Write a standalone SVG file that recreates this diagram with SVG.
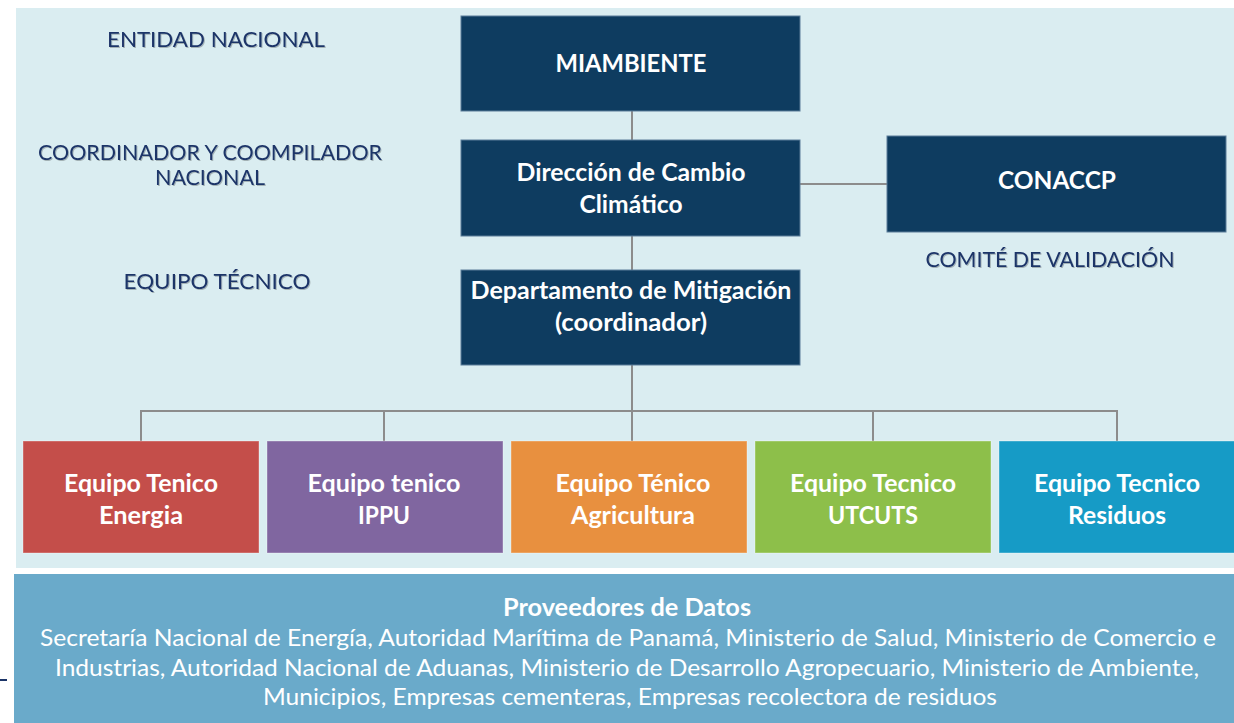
<svg xmlns="http://www.w3.org/2000/svg" width="1234" height="723" viewBox="0 0 1234 723">
<defs>
<style>
.lbl{font-family:Lato,"Open Sans","Liberation Sans",sans-serif;font-size:21px;fill:#1C3468;text-anchor:middle}
.nav{fill:#0E3C60;stroke:#5A7D99;stroke-width:1}
.wt{font-family:Lato,"Open Sans","Liberation Sans",sans-serif;font-weight:bold;fill:#FFFFFF;text-anchor:middle;font-size:24px}
.team{stroke:#FFFFFF;stroke-opacity:0.35;stroke-width:1}
.con{stroke:#8C8C8C;stroke-width:2;fill:none}
.bt{font-family:Lato,"Open Sans","Liberation Sans",sans-serif;fill:#FFFFFF;text-anchor:middle;font-size:24px}
</style>
<filter id="sh" x="-5%" y="-20%" width="110%" height="140%">
<feDropShadow dx="1" dy="1" stdDeviation="0.6" flood-color="#000" flood-opacity="0.25"/>
</filter>
</defs>
<rect width="1234" height="723" fill="#FFFFFF"/>
<rect id="panel" x="16" y="8" width="1218" height="560" fill="#DAEDF1"/>
<rect id="providers-panel" x="14" y="574" width="1220" height="149" fill="#6AAACA"/>
<line x1="0" y1="680" x2="7" y2="680" stroke="#1C3468" stroke-width="2"/>

<g id="connectors">
<line class="con" x1="632" y1="111" x2="632" y2="140"/>
<line class="con" x1="632" y1="236" x2="632" y2="270"/>
<line class="con" x1="800" y1="184" x2="887" y2="184"/>
<line class="con" x1="632" y1="365" x2="632" y2="441"/>
<polyline class="con" points="141,441 141,411 1117,411 1117,441"/>
<line class="con" x1="384" y1="411" x2="384" y2="441"/>
<line class="con" x1="873" y1="411" x2="873" y2="441"/>
</g>

<g id="label-entidad" filter="url(#sh)"><text class="lbl" x="216" y="47" textLength="218" lengthAdjust="spacingAndGlyphs">ENTIDAD NACIONAL</text></g>
<g id="label-coordinador" filter="url(#sh)"><text class="lbl" x="210" y="160" textLength="344" lengthAdjust="spacingAndGlyphs">COORDINADOR Y COOMPILADOR</text><text class="lbl" x="210" y="185" textLength="110" lengthAdjust="spacingAndGlyphs">NACIONAL</text></g>
<g id="label-equipo" filter="url(#sh)"><text class="lbl" x="217" y="289" textLength="187" lengthAdjust="spacingAndGlyphs">EQUIPO TÉCNICO</text></g>
<g id="label-comite" filter="url(#sh)"><text class="lbl" x="1050" y="267" textLength="249" lengthAdjust="spacingAndGlyphs">COMITÉ DE VALIDACIÓN</text></g>

<g id="miambiente"><rect class="nav" x="461" y="16" width="339" height="95"/><text class="wt" x="631" y="72" textLength="151" lengthAdjust="spacingAndGlyphs">MIAMBIENTE</text></g>
<g id="direccion"><rect class="nav" x="461" y="140" width="339" height="96"/><text class="wt" x="631" y="181" textLength="229" lengthAdjust="spacingAndGlyphs">Dirección de Cambio</text><text class="wt" x="631" y="213" textLength="103" lengthAdjust="spacingAndGlyphs">Climático</text></g>
<g id="departamento"><rect class="nav" x="461" y="270" width="339" height="95"/><text class="wt" x="631" y="299" textLength="321" lengthAdjust="spacingAndGlyphs">Departamento de Mitigación</text><text class="wt" x="631" y="331" textLength="152" lengthAdjust="spacingAndGlyphs">(coordinador)</text></g>
<g id="conaccp"><rect class="nav" x="887" y="136" width="339" height="96"/><text class="wt" x="1057" y="189" textLength="118" lengthAdjust="spacingAndGlyphs">CONACCP</text></g>

<g id="energia"><rect class="team" x="23" y="441" width="236" height="112" fill="#C44E4A"/><text class="wt" x="141" y="492" textLength="154" lengthAdjust="spacingAndGlyphs">Equipo Tenico</text><text class="wt" x="141" y="524" textLength="84" lengthAdjust="spacingAndGlyphs">Energia</text></g>
<g id="ippu"><rect class="team" x="267" y="441" width="236" height="112" fill="#8066A0"/><text class="wt" x="384" y="492" textLength="153" lengthAdjust="spacingAndGlyphs">Equipo tenico</text><text class="wt" x="384" y="524" textLength="52" lengthAdjust="spacingAndGlyphs">IPPU</text></g>
<g id="agricultura"><rect class="team" x="511" y="441" width="236" height="112" fill="#E8903F"/><text class="wt" x="633" y="492" textLength="155" lengthAdjust="spacingAndGlyphs">Equipo Ténico</text><text class="wt" x="633" y="524" textLength="124" lengthAdjust="spacingAndGlyphs">Agricultura</text></g>
<g id="utcuts"><rect class="team" x="755" y="441" width="236" height="112" fill="#8DBF4A"/><text class="wt" x="873" y="492" textLength="166" lengthAdjust="spacingAndGlyphs">Equipo Tecnico</text><text class="wt" x="873" y="524" textLength="90" lengthAdjust="spacingAndGlyphs">UTCUTS</text></g>
<g id="residuos"><rect class="team" x="999" y="441" width="236" height="112" fill="#169BC6"/><text class="wt" x="1117" y="492" textLength="166" lengthAdjust="spacingAndGlyphs">Equipo Tecnico</text><text class="wt" x="1117" y="524" textLength="98" lengthAdjust="spacingAndGlyphs">Residuos</text></g>

<g id="proveedores">
<text class="bt" x="627" y="616" font-weight="bold" font-size="23" textLength="248" lengthAdjust="spacingAndGlyphs">Proveedores de Datos</text>
<text class="bt" x="628" y="646" textLength="1176" lengthAdjust="spacingAndGlyphs">Secretaría Nacional de Energía, Autoridad Marítima de Panamá, Ministerio de Salud, Ministerio de Comercio e</text>
<text class="bt" x="627" y="676" textLength="1144" lengthAdjust="spacingAndGlyphs">Industrias, Autoridad Nacional de Aduanas, Ministerio de Desarrollo Agropecuario, Ministerio de Ambiente,</text>
<text class="bt" x="630" y="705" textLength="734" lengthAdjust="spacingAndGlyphs">Municipios, Empresas cementeras, Empresas recolectora de residuos</text>
</g>
</svg>
